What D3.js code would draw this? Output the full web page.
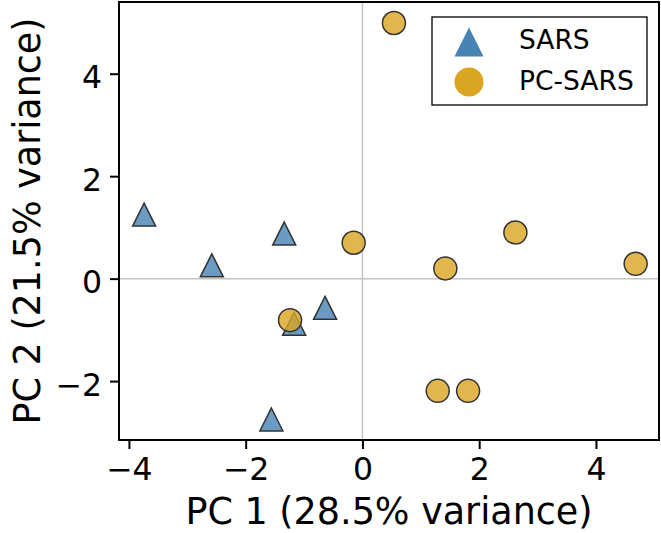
<!DOCTYPE html>
<html>
<head>
<meta charset="utf-8">
<script src="https://cdn.jsdelivr.net/npm/d3@7"></script>
<style>
    body { margin: 0; background: #fff; }
    svg { display: block; font-family: "DejaVu Sans", sans-serif; }
</style>
</head>
<body>
<svg id="chart" width="661" height="533"></svg>
<script>

// Data
const sarsX = [-3.74, -2.58, -1.34, -0.64, -1.17, -1.56];
const sarsY = [1.25, 0.26, 0.88, -0.57, -0.88, -2.75];
const pcX = [0.54, -0.15, -1.24, 1.42, 2.62, 4.68, 1.29, 1.81];
const pcY = [4.99, 0.70, -0.81, 0.20, 0.90, 0.29, -2.19, -2.19];
const xTicks = [-4, -2, 0, 2, 4];
const yTicks = [-2, 0, 2, 4];
const seriesNames = ["SARS", "PC-SARS"];
const seriesColours = ["#4682b4", "#daa520"];

// Dimensions
const width = 661, height = 533;
const margin = {top: 2, right: 2, bottom: 93, left: 119};
const plotW = width - margin.left - margin.right,
    plotH = height - margin.top - margin.bottom;

const svg = d3.select("#chart");
const g = svg.append("g")
    .attr("transform", `translate(${margin.left},${margin.top})`);

// Scales
const x = d3.scaleLinear().domain([-4.17, 5.08]).range([0, plotW]);
const y = d3.scaleLinear().domain([-3.15, 5.40]).range([plotH, 0]);

// Zero reference lines
g.append("line")
    .attr("x1", x(0)).attr("x2", x(0))
    .attr("y1", 0).attr("y2", plotH)
    .attr("stroke", "#c4c4c4").attr("stroke-width", 1.5);
g.append("line")
    .attr("x1", 0).attr("x2", plotW)
    .attr("y1", y(0)).attr("y2", y(0))
    .attr("stroke", "#c4c4c4").attr("stroke-width", 1.5);

// Upward triangle, same width and height
const triPath = (half) => `M0,${-half}L${half},${half}L${-half},${half}Z`;

// Triangles first, circles drawn on top
g.selectAll("path.sars")
    .data(d3.zip(sarsX, sarsY))
    .enter()
    .append("path")
    .classed("sars", true)
    .attr("d", triPath(11.5))
    .attr("transform", d => `translate(${x(d[0])},${y(d[1])})`)
    .attr("fill", seriesColours[0])
    .attr("fill-opacity", 0.8)
    .attr("stroke", "#333")
    .attr("stroke-width", 1.5);

g.selectAll("circle.pc")
    .data(d3.zip(pcX, pcY))
    .enter()
    .append("circle")
    .classed("pc", true)
    .attr("cx", d => x(d[0]))
    .attr("cy", d => y(d[1]))
    .attr("r", 11.5)
    .attr("fill", seriesColours[1])
    .attr("fill-opacity", 0.8)
    .attr("stroke", "#333")
    .attr("stroke-width", 1.5);

// Axes
const xAxis = g.append("g")
    .attr("transform", `translate(0,${plotH})`)
    .call(d3.axisBottom(x).tickValues(xTicks).tickSize(9).tickPadding(8.5));
const yAxis = g.append("g")
    .call(d3.axisLeft(y).tickValues(yTicks).tickSize(9).tickPadding(8));

[xAxis, yAxis].forEach(a => {
    a.select(".domain").remove();
    a.selectAll(".tick line").attr("stroke", "#000").attr("stroke-width", 2);
    a.selectAll(".tick text")
        .attr("fill", "#000")
        .style("font-size", "31.5px")
        .style("font-family", "'DejaVu Sans'");
});
yAxis.selectAll(".tick text").attr("dy", "0.45em");

// Frame
g.append("rect")
    .attr("width", plotW).attr("height", plotH)
    .attr("fill", "none")
    .attr("stroke", "#000")
    .attr("stroke-width", 2);

// Axis labels
svg.append("text")
    .attr("x", margin.left + plotW / 2)
    .attr("y", 524)
    .attr("text-anchor", "middle")
    .style("font-size", "36.5px")
    .text("PC 1 (28.5% variance)");
svg.append("text")
    .attr("transform", `translate(40,${margin.top + plotH / 2}) rotate(-90)`)
    .attr("text-anchor", "middle")
    .style("font-size", "36.5px")
    .text("PC 2 (21.5% variance)");

// Legend
const legend = g.append("g")
    .attr("transform", `translate(${plotW - 227},15)`);
legend.append("rect")
    .attr("width", 215).attr("height", 88)
    .attr("fill", "#fff")
    .attr("stroke", "#000")
    .attr("stroke-width", 1.3);
legend.append("path")
    .attr("d", triPath(14.5))
    .attr("transform", "translate(37,25)")
    .attr("fill", seriesColours[0]);
legend.append("circle")
    .attr("cx", 37).attr("cy", 65)
    .attr("r", 14.5)
    .attr("fill", seriesColours[1]);
legend.selectAll("text")
    .data(seriesNames)
    .enter()
    .append("text")
    .attr("x", 87)
    .attr("y", (d, i) => 31.5 + i * 41)
    .style("font-size", "26.5px")
    .text(d => d);

</script>
</body>
</html>
